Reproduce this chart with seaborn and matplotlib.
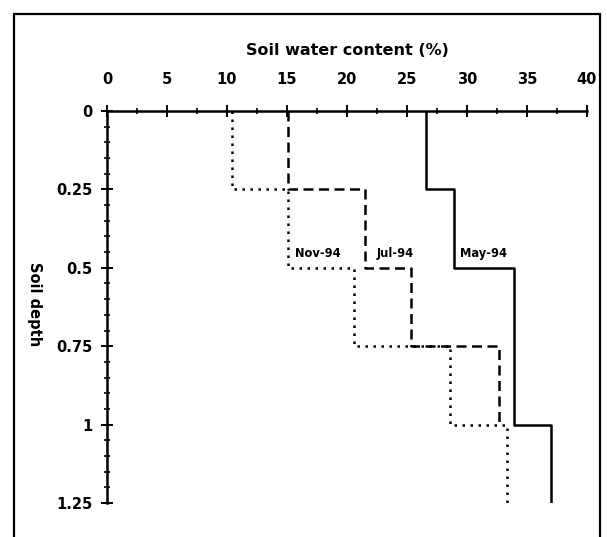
#!/usr/bin/env python3
# soil_water.py

import numpy as np
import pandas as pd
import seaborn as sns
import matplotlib.pyplot as plt
from matplotlib.ticker import FixedLocator, MultipleLocator
from matplotlib.patches import Rectangle

# Data =========================================================================

depth_edges = [0, 0.25, 0.5, 0.75, 1.0, 1.25]
may_94 = [26.6, 28.9, 33.9, 33.9, 37.0]
jul_94 = [15.1, 21.5, 25.3, 32.7]
nov_94 = [10.4, 15.1, 20.6, 28.6, 33.3]

x_ticks = [0, 5, 10, 15, 20, 25, 30, 35, 40]
y_ticks = [0, 0.25, 0.5, 0.75, 1.0, 1.25]
y_tick_labels = ['0', '0.25', '0.5', '0.75', '1', '1.25']

series = [
    ('May-94', may_94, '-', (29.4, 0.475)),
    ('Jul-94', jul_94, (0, (4, 2.2)), (22.5, 0.475)),
    ('Nov-94', nov_94, (0, (1, 2.2)), (15.7, 0.475)),
]


def step_frame(values):
    water, depth = [], []
    for i, v in enumerate(values):
        water += [v, v]
        depth += [depth_edges[i], depth_edges[i + 1]]
    return pd.DataFrame({'water': water, 'depth': depth})


def main():
    sns.set_theme(style='white')
    plt.rcParams['font.family'] = ['DejaVu Sans']
    plt.rcParams['font.weight'] = 'bold'
    plt.rcParams['text.color'] = 'black'
    plt.rcParams['axes.labelcolor'] = 'black'

    fig = plt.figure(figsize=(6.07, 5.37), dpi=100)
    ax = fig.add_axes([107 / 607, 1 - 503 / 537, 480 / 607, 392 / 537])

    for name, values, ls, (tx, ty) in series:
        df = step_frame(values)
        sns.lineplot(
            data=df, x='water', y='depth', sort=False, estimator=None,
            color='black', linewidth=1.8, linestyle=ls, ax=ax
        )
        ax.text(tx, ty, name, fontsize=8.3, fontweight='bold',
                ha='left', va='bottom', color='black')

    ax.set_xlim(0, 40)
    ax.set_ylim(1.25, 0)
    ax.xaxis.tick_top()
    ax.xaxis.set_label_position('top')
    ax.xaxis.set_major_locator(FixedLocator(x_ticks))
    ax.xaxis.set_minor_locator(MultipleLocator(2.5))
    ax.yaxis.set_major_locator(FixedLocator(y_ticks))
    ax.set_yticklabels(y_tick_labels)
    ax.yaxis.set_minor_locator(MultipleLocator(0.05))

    for side in ('bottom', 'right'):
        ax.spines[side].set_visible(False)
    for side in ('top', 'left'):
        ax.spines[side].set_linewidth(1.8)
        ax.spines[side].set_color('black')

    ax.tick_params(which='major', direction='inout', length=9, width=1.4,
                   labelsize=10.5, colors='black', pad=6)
    ax.tick_params(which='minor', direction='inout', length=5, width=1.2,
                   colors='black')
    ax.tick_params(axis='x', which='major', pad=13)
    ax.tick_params(axis='x', which='both', top=True, bottom=False)
    ax.tick_params(axis='y', which='both', left=True, right=False)

    ax.set_xlabel('Soil water content (%)', fontsize=11.5, fontweight='bold',
                  labelpad=12)
    ax.set_ylabel('Soil depth', fontsize=10.5, fontweight='bold',
                  rotation=-90)
    ax.yaxis.set_label_coords(-0.167, 0.507)

    fig.patches.append(Rectangle(
        (14 / 607, -0.05), 586 / 607, 1.05 - 14 / 537,
        transform=fig.transFigure, fill=False, edgecolor='black',
        linewidth=1.6
    ))

    fig.savefig('out.png', dpi=100)


if __name__ == '__main__':
    main()
